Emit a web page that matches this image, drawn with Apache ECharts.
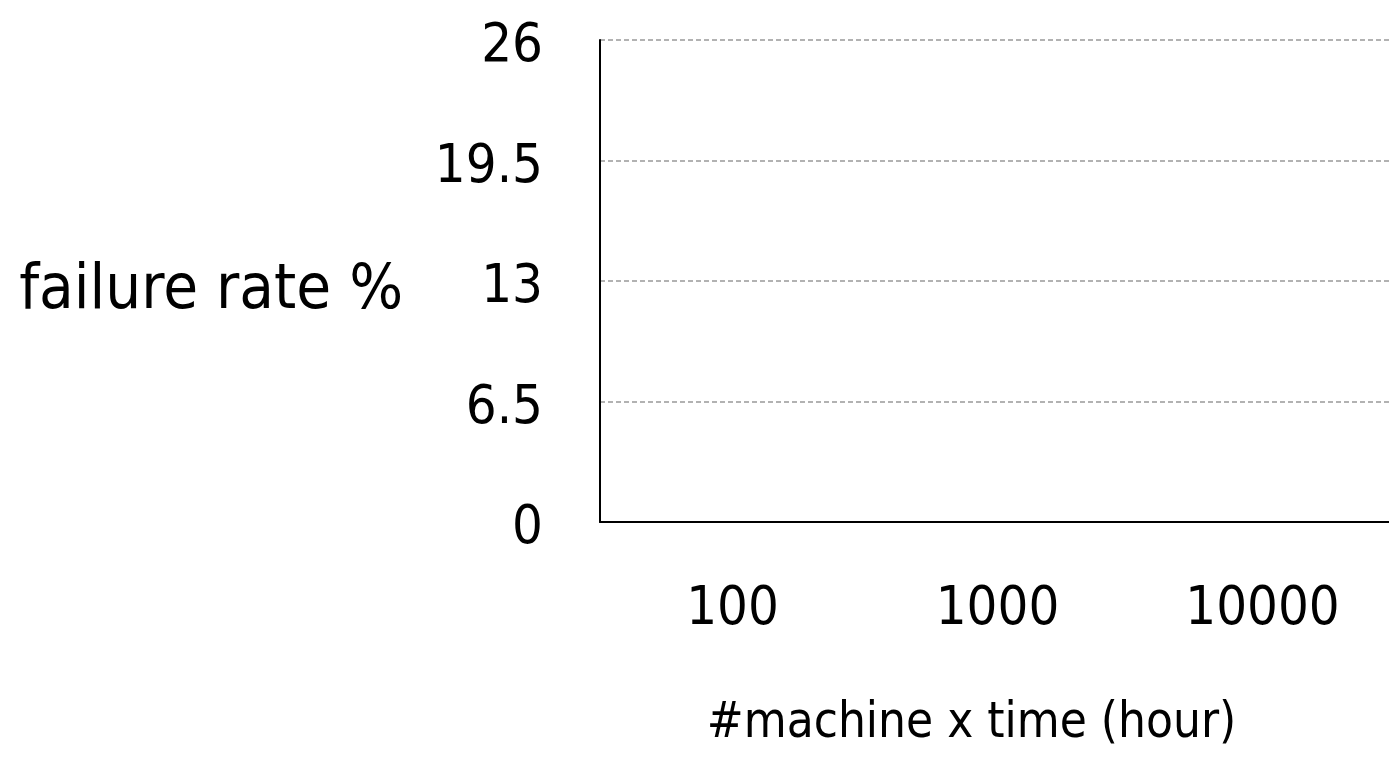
<!DOCTYPE html>
<html>
<head>
<meta charset="utf-8">
<script src="https://cdn.jsdelivr.net/npm/echarts@6/dist/echarts.min.js"></script>
<style>html,body{margin:0;padding:0;background:#fff}#c{width:1389px;height:761px}</style>
</head>
<body>
<div id="c"></div>
<script>
const categories = ['100', '1000', '10000'];
const failureRate = [null, null, null];
const yMin = 0, yMax = 26, yInterval = 6.5;
const FONT = '"DejaVu Sans Condensed", "DejaVu Sans", sans-serif';

const chart = echarts.init(document.getElementById('c'), null, {renderer: 'canvas'});
chart.setOption({
  animation: false,
  grid: {left: 600, right: -6, top: 40, bottom: 239, containLabel: false, outerBoundsMode: 'none'},
  xAxis: {
    type: 'category',
    data: categories,
    boundaryGap: true,
    name: '#machine x time (hour)',
    nameLocation: 'middle',
    nameGap: 178,
    nameTextStyle: {fontFamily: FONT, fontSize: 49, color: '#000', padding: [0, 52, 0, 0]},
    axisLine: {show: true, lineStyle: {color: '#000', width: 2}},
    axisTick: {show: false},
    axisLabel: {fontFamily: FONT, fontSize: 54, color: '#000', margin: 61},
    splitLine: {show: false}
  },
  yAxis: {
    type: 'value',
    min: yMin, max: yMax, interval: yInterval,
    name: 'failure rate %',
    nameLocation: 'middle',
    nameRotate: 0,
    nameGap: 197,
    nameTextStyle: {fontFamily: FONT, fontSize: 63, color: '#000', verticalAlign: 'top', lineHeight: 22},
    axisLine: {show: true, lineStyle: {color: '#000', width: 2}},
    axisTick: {show: false},
    axisLabel: {fontFamily: FONT, fontSize: 54, color: '#000', margin: 57, verticalAlign: 'top', lineHeight: 14},
    splitLine: {show: true, lineStyle: {color: '#999', width: 1.5, type: [5, 3]}}
  },
  series: [{type: 'bar', data: failureRate}]
});
</script>
</body>
</html>
